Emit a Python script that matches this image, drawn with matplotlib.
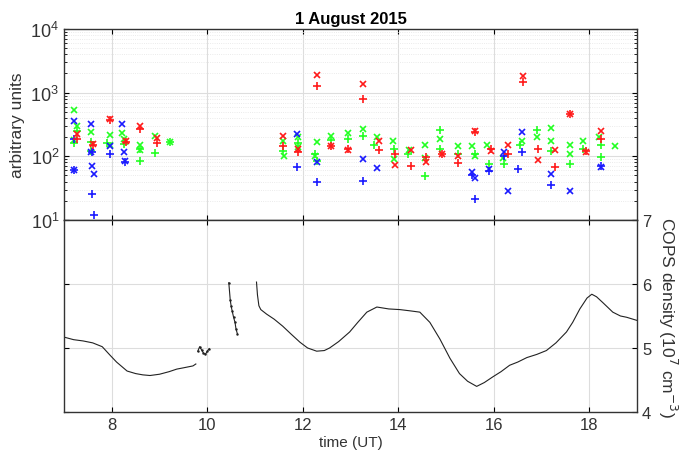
import matplotlib
matplotlib.use("Agg")
import matplotlib.pyplot as plt
from matplotlib.ticker import LogLocator, NullFormatter

plt.rcParams['font.family'] = ['Liberation Sans', 'DejaVu Sans']

# --- top panel: scattered measurements (arbitrary units) ---
red_x_t = [7.27, 7.6, 7.96, 8.3, 8.6, 8.95, 11.58, 11.9, 12.29, 12.6, 12.95, 13.27, 13.6, 13.93,
           14.27, 14.57, 14.92, 15.24, 15.6, 15.95, 16.3, 16.6, 16.93, 17.27, 17.6, 17.93, 18.25]
red_x_v = [225, 155, 390, 175, 300, 195, 210, 130, 1900, 145, 125, 1380, 175, 72,
           125, 81, 110, 100, 250, 120, 150, 1800, 87, 125, 470, 117, 250]
red_p_t = [7.27, 7.6, 7.96, 8.3, 8.6, 8.95, 11.58, 11.9, 12.29, 12.6, 12.95, 13.27, 13.6, 13.93,
           14.27, 14.57, 14.92, 15.24, 15.6, 15.95, 16.3, 16.6, 16.93, 17.27, 17.6, 17.93, 18.25]
red_p_v = [185, 150, 370, 170, 270, 160, 145, 115, 1250, 145, 130, 790, 125, 110,
           71, 98, 110, 79, 245, 130, 110, 1480, 130, 67, 460, 120, 185]

blue_x_t = [7.21, 7.21, 7.56, 7.56, 7.58, 7.62, 7.96, 8.21, 8.25, 8.27, 11.87, 12.29, 13.27,
            13.55, 15.55, 15.6, 15.9, 16.22, 16.3, 16.58, 17.2, 17.59, 18.25]
blue_x_v = [360, 61, 320, 117, 71, 53, 145, 325, 117, 85, 225, 82, 91,
            66, 56, 45, 63, 118, 29, 240, 53, 29, 68]
blue_p_t = [7.21, 7.21, 7.58, 7.58, 7.62, 7.96, 8.27, 11.87, 12.29, 13.27, 15.55, 15.6, 15.9,
            16.22, 16.5, 16.58, 17.2, 18.25]
blue_p_v = [190, 62, 115, 26, 12, 108, 82, 68, 40, 41, 50, 21, 58,
            100, 63, 118, 35, 70]

green_x_t = [7.21, 7.27, 7.21, 7.56, 7.96, 7.96, 8.21, 8.25, 8.59, 8.59, 8.9, 9.22, 11.58, 11.6,
             11.9, 11.9, 12.29, 12.25, 12.6, 12.95, 13.27, 13.55, 13.88, 13.9, 14.22, 14.55, 14.55,
             14.87, 15.24, 15.55, 15.6, 15.85, 16.2, 16.58, 16.9, 17.2, 17.2, 17.6, 17.6, 17.86,
             18.2, 18.53]
green_x_v = [540, 300, 180, 240, 220, 150, 230, 190, 150, 125, 210, 165, 175, 100,
             200, 140, 170, 100, 210, 230, 270, 200, 175, 92, 125, 150, 95,
             190, 145, 145, 100, 150, 95, 175, 200, 175, 280, 150, 110, 175,
             200, 145]
green_p_t = [7.21, 7.27, 7.56, 7.56, 7.9, 8.25, 8.59, 8.59, 8.9, 9.22, 11.58, 11.9, 12.25, 12.29,
             12.6, 12.95, 13.27, 13.5, 13.9, 14.2, 14.55, 14.87, 14.87, 15.24, 15.6, 15.9, 16.22,
             16.55, 16.9, 17.2, 17.6, 17.86, 18.25, 18.25]
green_p_v = [160, 250, 170, 120, 160, 155, 85, 130, 113, 165, 120, 160, 110, 85,
             180, 190, 210, 150, 130, 110, 49, 255, 130, 110, 110, 75, 75,
             150, 255, 120, 75, 130, 150, 97]

# --- bottom panel: COPS density (10^7 cm^-3) ---
cops1_t = [7.0, 7.2, 7.4, 7.6, 7.8, 7.96, 8.1, 8.32, 8.5, 8.65, 8.8, 9.0, 9.2, 9.36, 9.5, 9.7, 9.76]
cops1_v = [5.17, 5.13, 5.11, 5.08, 5.02, 4.89, 4.78, 4.64, 4.6, 4.58, 4.57, 4.59, 4.63, 4.67,
           4.69, 4.72, 4.75]
cops2_t = [9.8, 9.84, 9.88, 9.92, 9.96, 10.0, 10.04]
cops2_v = [4.95, 5.02, 4.97, 4.92, 4.9, 4.95, 4.99]
cops3_t = [10.45, 10.48, 10.5, 10.52, 10.55, 10.58, 10.6, 10.63]
cops3_v = [6.02, 5.75, 5.65, 5.58, 5.48, 5.4, 5.3, 5.22]
cops4_t = [11.03, 11.05, 11.08, 11.12, 11.24, 11.4, 11.58, 11.75, 11.94, 12.1, 12.29, 12.45, 12.56,
           12.75, 12.98, 13.15, 13.34, 13.55, 13.8, 14.03, 14.25, 14.45, 14.66, 14.87, 15.08, 15.28,
           15.45, 15.64, 15.8, 15.98, 16.15, 16.33, 16.5, 16.69, 16.9, 17.1, 17.3, 17.52, 17.65,
           17.8, 17.95, 18.05, 18.15, 18.28, 18.49, 18.65, 18.78, 19.0]
cops4_v = [6.03, 5.83, 5.66, 5.6, 5.53, 5.45, 5.34, 5.22, 5.09, 5.0, 4.95, 4.96, 5.0,
           5.1, 5.25, 5.4, 5.56, 5.64, 5.61, 5.6, 5.58, 5.56, 5.4, 5.14, 4.84, 4.6,
           4.48, 4.4, 4.46, 4.55, 4.63, 4.73, 4.78, 4.85, 4.9, 4.96, 5.08, 5.25, 5.4,
           5.61, 5.78, 5.84, 5.8, 5.71, 5.56, 5.5, 5.48, 5.43]

RED = '#ff1a1a'
BLUE = '#1a1aff'
GREEN = '#22ff22'
TXT = '#333333'

fig = plt.figure(figsize=(6.93, 4.6), dpi=100)
ax1 = fig.add_axes([0.0924, 0.5196, 0.827, 0.4152])
ax2 = fig.add_axes([0.0924, 0.1022, 0.827, 0.4174])

# scatter markers (x and + per colour)
ms = 5
ax1.plot(green_x_t, green_x_v, 'x', color=GREEN, ms=ms, mew=1.2)
ax1.plot(green_p_t, green_p_v, '+', color=GREEN, ms=ms + 1, mew=1.2)
ax1.plot(blue_x_t, blue_x_v, 'x', color=BLUE, ms=ms, mew=1.2)
ax1.plot(blue_p_t, blue_p_v, '+', color=BLUE, ms=ms + 1, mew=1.2)
ax1.plot(red_x_t, red_x_v, 'x', color=RED, ms=ms, mew=1.2)
ax1.plot(red_p_t, red_p_v, '+', color=RED, ms=ms + 1, mew=1.2)

ax1.set_yscale('log')
ax1.set_ylim(10, 1e4)
ax1.set_xlim(7, 19)
ax1.set_xticks(range(8, 19, 2))
ax1.set_xticklabels([])
ax1.yaxis.set_major_locator(LogLocator(base=10, numticks=10))
ax1.yaxis.set_minor_locator(LogLocator(base=10, subs=range(2, 10), numticks=20))
ax1.yaxis.set_minor_formatter(NullFormatter())
ax1.grid(True, which='major', color='#dddddd', lw=0.8)
ax1.grid(True, which='minor', axis='y', color='#e4e4e4', lw=0.6, ls=':')
ax1.set_axisbelow(True)
ax1.tick_params(which='both', direction='in', top=True, right=True, labelsize=13,
                labelcolor=TXT)
ax1.set_ylabel('arbitrary units', fontsize=12.5, color=TXT)
ax1.set_title('1 August 2015', fontsize=12, fontweight='bold', pad=4)

# density trace
for t, v in [(cops1_t, cops1_v), (cops2_t, cops2_v), (cops3_t, cops3_v), (cops4_t, cops4_v)]:
    ax2.plot(t, v, '-', color='#222222', lw=0.8)
ax2.plot(cops2_t, cops2_v, '.', color='#222222', ms=1.5)
ax2.plot(cops3_t, cops3_v, '.', color='#222222', ms=1.5)

ax2.set_xlim(7, 19)
ax2.set_ylim(4, 7)
ax2.set_xticks(range(8, 19, 2))
ax2.set_yticks([4, 5, 6, 7])
ax2.yaxis.tick_right()
ax2.yaxis.set_label_position('right')
ax2.tick_params(direction='in', left=True, right=True, top=True, labelsize=12,
                labelcolor=TXT)
ax2.grid(True, color='#dddddd', lw=0.8)
ax2.set_axisbelow(True)
ax2.set_xlabel('time (UT)', fontsize=11, color=TXT, labelpad=2)
ax2.set_ylabel('COPS density (10$^7$ cm$^{-3}$)', fontsize=12.5, color=TXT,
               rotation=270, labelpad=20)

for ax in (ax1, ax2):
    for s in ax.spines.values():
        s.set_color('#333333')
        s.set_linewidth(1.0)

fig.savefig('out.png', dpi=100)
